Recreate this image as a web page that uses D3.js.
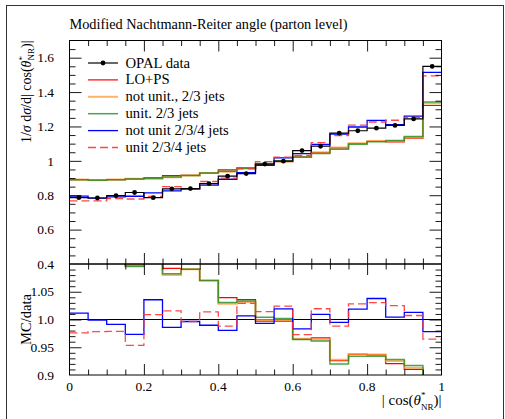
<!DOCTYPE html>
<html><head><meta charset="utf-8">
<script src="https://cdn.jsdelivr.net/npm/d3@7"></script>
<style>
html,body{margin:0;padding:0;background:#fff;}
svg{display:block;font-family:"Liberation Serif","Times New Roman",serif;}
</style></head><body>
<svg id="chart" width="505" height="419"></svg>
<script>
// Bin edges in |cos(theta*_NR)|
const binEdges = [0,0.05,0.1,0.15,0.2,0.25,0.3,0.35,0.4,0.45,0.5,0.55,0.6,0.65,0.7,0.75,0.8,0.85,0.9,0.95,1.0];

// OPAL data
const opalData = [0.786,0.784,0.798,0.816,0.786,0.837,0.839,0.868,0.911,0.926,0.981,0.998,1.060,1.085,1.161,1.175,1.190,1.206,1.244,1.549];
// MC predictions
const loPs        = [0.890,0.888,0.890,0.895,0.902,0.914,0.915,0.929,0.947,0.959,0.978,0.995,1.022,1.049,1.075,1.101,1.114,1.110,1.132,1.322];
const notUnit23   = [0.891,0.889,0.891,0.896,0.898,0.904,0.915,0.929,0.937,0.955,0.980,0.997,1.023,1.046,1.077,1.102,1.115,1.116,1.136,1.333];
const unit23      = [0.890,0.887,0.890,0.894,0.898,0.906,0.915,0.929,0.939,0.957,0.985,1.000,1.022,1.043,1.068,1.097,1.111,1.119,1.141,1.342];
const notUnit234  = [0.795,0.783,0.791,0.794,0.814,0.825,0.836,0.859,0.893,0.932,0.974,1.017,1.042,1.095,1.155,1.197,1.235,1.211,1.260,1.515];
const unit234     = [0.767,0.767,0.781,0.778,0.793,0.850,0.836,0.880,0.900,0.953,0.995,1.022,1.031,1.106,1.147,1.208,1.226,1.236,1.253,1.494];

// Axis ticks
const xMajor = [0,0.2,0.4,0.6,0.8,1];
const xLabels = ["0","0.2","0.4","0.6","0.8","1"];
const yMajor = [0.4,0.6,0.8,1.0,1.2,1.4,1.6];
const yLabels = ["0.4","0.6","0.8","1","1.2","1.4","1.6"];
const rMajor = [0.9,0.95,1.0,1.05];
const rLabels = ["0.9","0.95","1.0","1.05"];

const legendNames = ["OPAL data","LO+PS","not unit., 2/3 jets","unit. 2/3 jets","not unit 2/3/4 jets","unit 2/3/4 jets"];

const svg = d3.select("#chart");
const L = 69.5, R = 441.5, T = 40.5, M = 264, B = 375;

const x = d3.scaleLinear().domain([0,1]).range([L,R]);
const y = d3.scaleLinear().domain([0.4,1.7]).range([M,T]);
const yr = d3.scaleLinear().domain([0.9,1.1]).range([B,M]);

// outer frame
svg.append("rect").attr("x",6.5).attr("y",5.5).attr("width",497).attr("height",430)
  .attr("fill","none").attr("stroke","#333").attr("stroke-width",1);

const defs = svg.append("defs");
defs.append("clipPath").attr("id","clipMain").append("rect")
  .attr("x",L).attr("y",T).attr("width",R-L).attr("height",M-T);
defs.append("clipPath").attr("id","clipRatio").append("rect")
  .attr("x",L).attr("y",M).attr("width",R-L).attr("height",B-M);

const mcSeries = [
  {vals: loPs,       color:"#ff0000", width:1.2, opacity:1,    dash:null},
  {vals: notUnit23,  color:"#ff9a30", width:2.0, opacity:0.75, dash:null},
  {vals: unit23,     color:"#1f8f1f", width:1.5, opacity:0.8,  dash:null},
  {vals: notUnit234, color:"#0000ff", width:1.3, opacity:1,    dash:null},
  {vals: unit234,    color:"#ff3333", width:1.3, opacity:0.9,  dash:"8,4"}
];

function stepPoints(vals){
  const p = vals.map((v,i)=>[binEdges[i], v]);
  p.push([binEdges[binEdges.length-1], vals[vals.length-1]]);
  return p;
}
const lineMain = d3.line().x(d=>x(d[0])).y(d=>y(d[1])).curve(d3.curveStepAfter);
const lineRatio = d3.line().x(d=>x(d[0])).y(d=>yr(d[1])).curve(d3.curveStepAfter);

// main panel histograms
const gMain = svg.append("g").attr("clip-path","url(#clipMain)");
mcSeries.forEach(s=>{
  gMain.append("path").attr("d", lineMain(stepPoints(s.vals)))
    .attr("fill","none").attr("stroke",s.color).attr("stroke-width",s.width)
    .attr("stroke-opacity",s.opacity).attr("stroke-dasharray",s.dash);
});
gMain.append("path").attr("d", lineMain(stepPoints(opalData)))
  .attr("fill","none").attr("stroke","#000").attr("stroke-width",1.2);
gMain.selectAll("circle.pt").data(opalData).join("circle").attr("class","pt")
  .attr("cx",(d,i)=>x((binEdges[i]+binEdges[i+1])/2)).attr("cy",d=>y(d)).attr("r",2.4).attr("fill","#000");

// ratio panel
const gRatio = svg.append("g").attr("clip-path","url(#clipRatio)");
gRatio.append("line").attr("x1",L).attr("x2",R).attr("y1",yr(1)).attr("y2",yr(1))
  .attr("stroke","#000").attr("stroke-width",1);
mcSeries.forEach(s=>{
  const ratio = s.vals.map((v,i)=>v/opalData[i]);
  gRatio.append("path").attr("d", lineRatio(stepPoints(ratio)))
    .attr("fill","none").attr("stroke",s.color).attr("stroke-width",s.width)
    .attr("stroke-opacity",s.opacity).attr("stroke-dasharray",s.dash);
});

// tick helper using d3 axes (negative size = ticks pointing into the panel)
function ticks(axisGen, transform, vals, size){
  const g = svg.append("g").attr("transform",transform)
    .call(axisGen.tickValues(vals).tickSize(size).tickFormat(""));
  g.select(".domain").remove();
  g.selectAll("line").attr("stroke","#000").attr("stroke-width",0.9);
  return g;
}
const xMinor = d3.range(0,21).map(i=>i*0.05).filter(v=>Math.abs(v*5-Math.round(v*5))>1e-6);
const yMinor = d3.range(9,34).map(i=>i*0.05).filter(v=>Math.abs(v*5-Math.round(v*5))>1e-6);
const rMinor = d3.range(90,111).map(i=>i*0.01).filter(v=>Math.abs(v*20-Math.round(v*20))>1e-6);

// x ticks on top/bottom edge of each panel
[[T,"top"],[M,"bottom"],[M,"top"],[B,"bottom"]].forEach(([yy,side])=>{
  const mk = () => side==="top" ? d3.axisTop(x) : d3.axisBottom(x);
  ticks(mk(), `translate(0,${yy})`, xMajor.slice(1,-1), -11);
  ticks(mk(), `translate(0,${yy})`, xMinor, -5.5);
});
// y ticks main
ticks(d3.axisLeft(y), `translate(${L},0)`, yMajor.slice(1), -12);
ticks(d3.axisLeft(y), `translate(${L},0)`, yMinor, -6);
ticks(d3.axisRight(y), `translate(${R},0)`, yMajor.slice(1), -12);
ticks(d3.axisRight(y), `translate(${R},0)`, yMinor, -6);
// y ticks ratio
ticks(d3.axisLeft(yr), `translate(${L},0)`, rMajor.slice(1), -12);
ticks(d3.axisLeft(yr), `translate(${L},0)`, rMinor, -6);
ticks(d3.axisRight(yr), `translate(${R},0)`, rMajor.slice(1), -12);
ticks(d3.axisRight(yr), `translate(${R},0)`, rMinor, -6);

// frames
svg.append("rect").attr("x",L).attr("y",T).attr("width",R-L).attr("height",M-T)
  .attr("fill","none").attr("stroke","#000").attr("stroke-width",1);
svg.append("rect").attr("x",L).attr("y",M).attr("width",R-L).attr("height",B-M)
  .attr("fill","none").attr("stroke","#000").attr("stroke-width",1);

// tick labels
const fs = 13.5;
svg.append("g").selectAll("text").data(yMajor).join("text")
  .attr("x",L-15.5).attr("y",d=>y(d)).attr("dy","0.35em").attr("text-anchor","end")
  .attr("font-size",fs).text((d,i)=>yLabels[i]);
svg.append("g").selectAll("text").data(rMajor).join("text")
  .attr("x",L-15.5).attr("y",d=>yr(d)).attr("dy","0.35em").attr("text-anchor","end")
  .attr("font-size",fs).text((d,i)=>rLabels[i]);
svg.append("g").selectAll("text").data(xMajor).join("text")
  .attr("x",d=>x(d)).attr("y",391).attr("text-anchor","middle")
  .attr("font-size",fs).text((d,i)=>xLabels[i]);

// title
svg.append("text").attr("x",69.5).attr("y",29).attr("font-size",14.3)
  .text("Modified Nachtmann-Reiter angle (parton level)");

// x-axis label
const xl = svg.append("text").attr("x",R).attr("y",405).attr("text-anchor","end").attr("font-size",15);
xl.append("tspan").text("| cos(");
xl.append("tspan").attr("font-style","italic").text("θ");
xl.append("tspan").attr("font-size",9).attr("dy",-7).text("*");
xl.append("tspan").attr("font-size",9).attr("dx",-4.5).attr("dy",11.5).text("NR");
xl.append("tspan").attr("dy",-4.5).text(")|");

// y-axis labels
const yl = svg.append("text").attr("transform",`translate(30.5,${T}) rotate(-90)`)
  .attr("text-anchor","end").attr("font-size",14);
yl.append("tspan").text("1/");
yl.append("tspan").attr("font-style","italic").text("σ");
yl.append("tspan").text(" d");
yl.append("tspan").attr("font-style","italic").text("σ");
yl.append("tspan").text("/d| cos(");
yl.append("tspan").attr("font-style","italic").text("θ");
yl.append("tspan").attr("font-size",9).attr("dy",-6).text("*");
yl.append("tspan").attr("font-size",9).attr("dx",-4.5).attr("dy",9).text("NR");
yl.append("tspan").attr("dy",-3).text(")|");

svg.append("text").attr("transform",`translate(30.5,${(M+B)/2}) rotate(-90)`)
  .attr("text-anchor","middle").attr("font-size",14.5).text("MC/data");

// legend
const legStyles = [{color:"#000",width:1.2,opacity:1,dash:null,dot:true}].concat(mcSeries);
const lg = svg.append("g");
legendNames.forEach((name,i)=>{
  const yy = 63 + i*16.9;
  const s = legStyles[i];
  lg.append("line").attr("x1",88).attr("x2",118).attr("y1",yy).attr("y2",yy)
    .attr("stroke",s.color).attr("stroke-width",s.width).attr("stroke-opacity",s.opacity)
    .attr("stroke-dasharray",s.dash);
  if (s.dot) lg.append("circle").attr("cx",103).attr("cy",yy).attr("r",2.4).attr("fill","#000");
  lg.append("text").attr("x",125.5).attr("y",yy+4.5).attr("font-size",14.7).text(name);
});
</script>
</body></html>
